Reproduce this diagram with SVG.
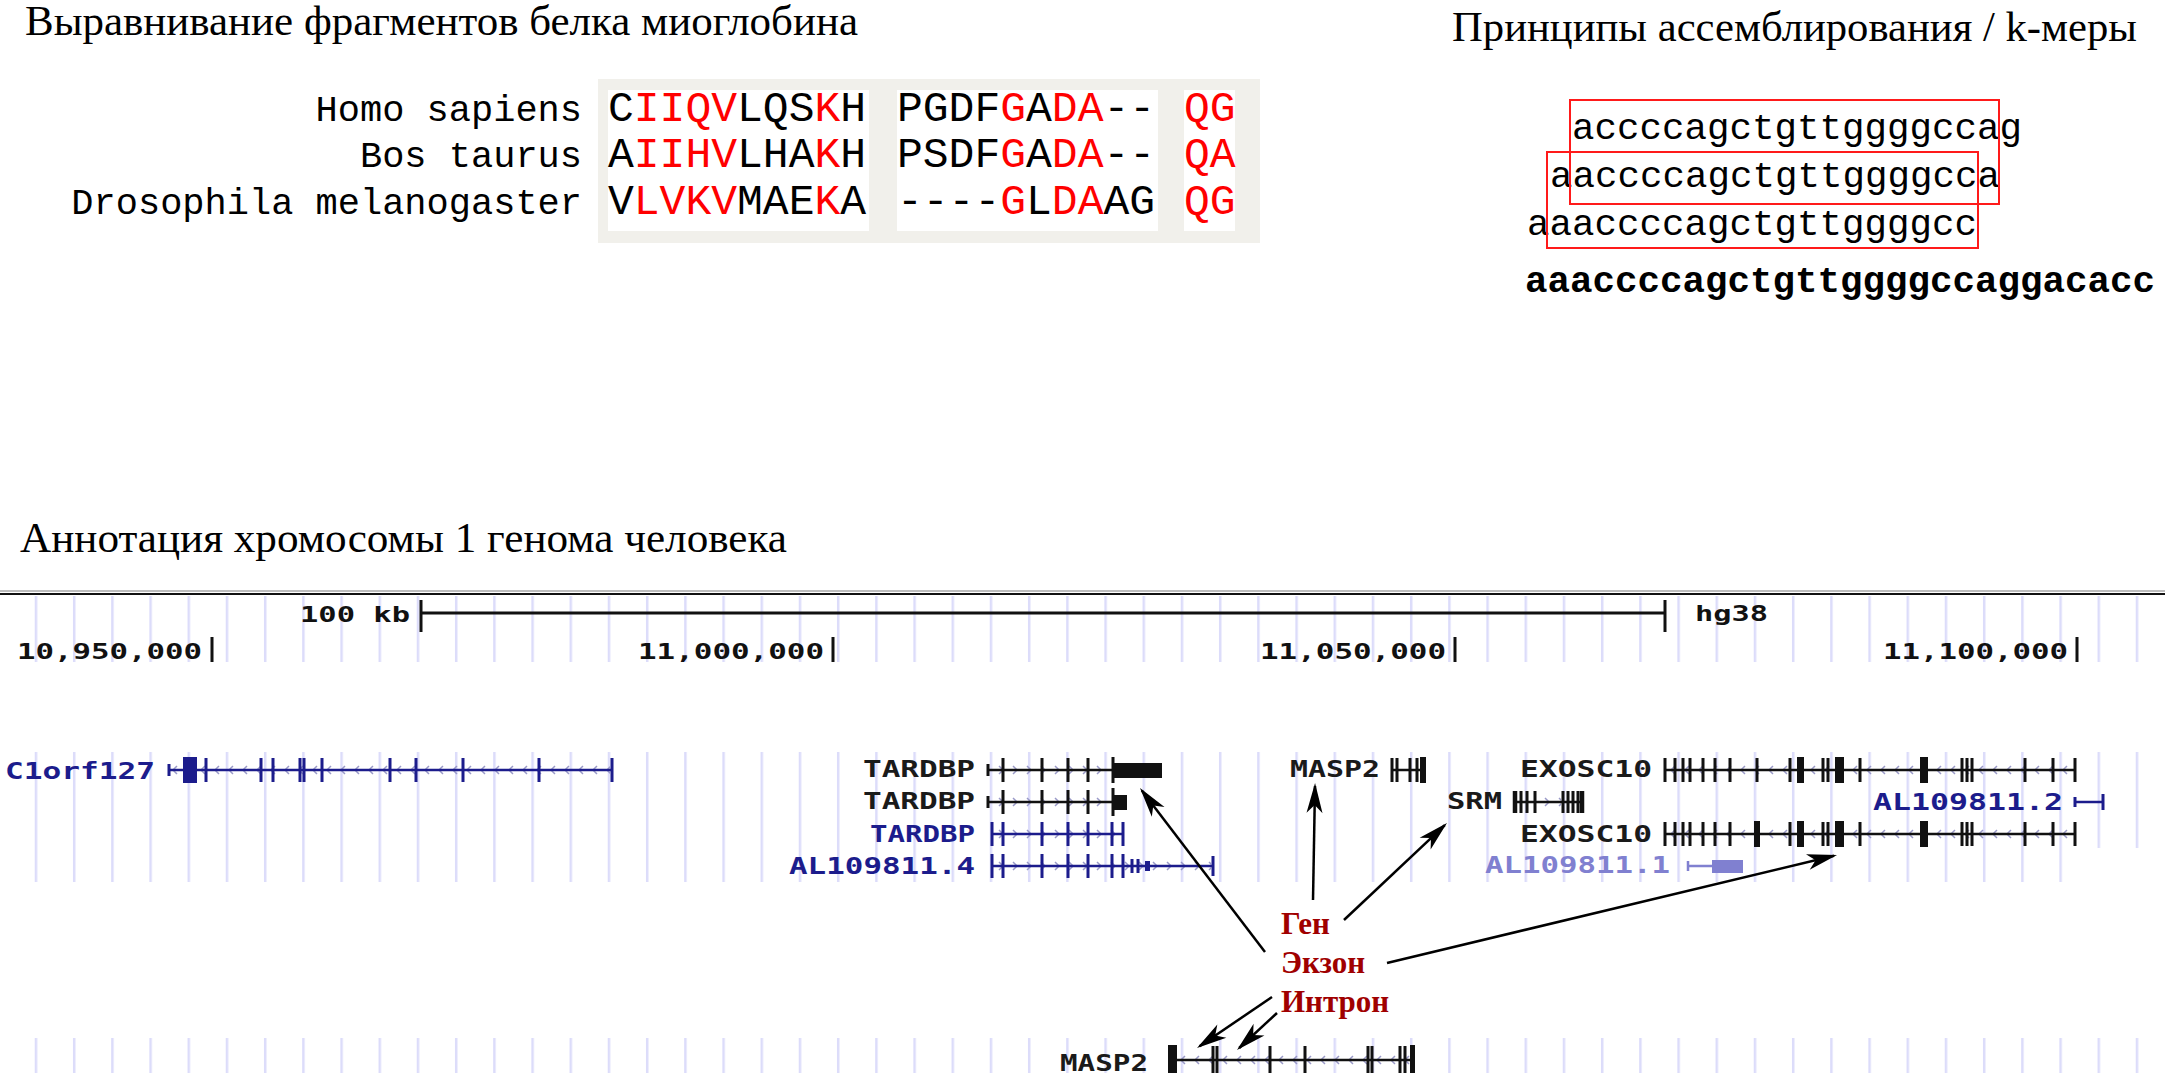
<svg xmlns="http://www.w3.org/2000/svg" width="2165" height="1073" viewBox="0 0 2165 1073">
<style>
.title{font-family:"Liberation Serif","Times New Roman",serif;font-size:42px;fill:#000}
.sp{font-family:"Liberation Mono","Courier New",monospace;font-size:37px;fill:#000}
.seq{font-family:"Liberation Mono","Courier New",monospace;font-size:43px;fill:#000}
.r{fill:#ff0000}
.km{font-family:"Liberation Mono","Courier New",monospace;font-size:37.5px;fill:#000}
.kmb{font-family:"Liberation Mono","Courier New",monospace;font-size:37.5px;font-weight:bold;fill:#000}
.px{font-family:"DejaVu Sans Mono",monospace;font-weight:bold;font-size:22px;fill:#111}
.gl{font-family:"DejaVu Sans Mono",monospace;font-weight:bold;font-size:23px}
.blk{fill:#1a1a1a}
.blu{fill:#1c1c8c}
.lbl{fill:#8080d0}
.gk{stroke:#111;fill:none}
.gb{stroke:#1c1c8c;fill:none}
.ln{stroke-width:2.5}
.tk{stroke-width:3}
.ann{font-family:"Liberation Serif","Times New Roman",serif;font-weight:bold;font-size:31px;fill:#a00000}
.arr{stroke:#000;stroke-width:2.5;fill:none;marker-end:url(#ah)}
</style>
<defs>
<marker id="ah" markerUnits="userSpaceOnUse" orient="auto" refX="-3" refY="0" markerWidth="40" markerHeight="20" viewBox="-32 -10 36 20" overflow="visible">
<path d="M0,0 L-30,-8 L-22,0 L-30,8 Z" fill="#000"/>
</marker>
<pattern id="grid" patternUnits="userSpaceOnUse" x="34.75" y="0" width="38.2" height="10">
<rect x="0" y="0" width="2.5" height="10" fill="#dcdcfa"/>
</pattern>
<pattern id="chevR" patternUnits="userSpaceOnUse" x="0" y="754" width="14" height="32">
<path d="M5,12 L9,16 L5,20" stroke="#9a9ac8" stroke-width="1.5" fill="none"/>
</pattern>
<pattern id="chevL" patternUnits="userSpaceOnUse" x="0" y="754" width="14" height="32">
<path d="M9,12 L5,16 L9,20" stroke="#9a9ac8" stroke-width="1.5" fill="none"/>
</pattern>
<pattern id="chevL2" patternUnits="userSpaceOnUse" x="0" y="1044" width="14" height="32">
<path d="M9,12 L5,16 L9,20" stroke="#9a9ac8" stroke-width="1.5" fill="none"/>
</pattern>
</defs>
<rect width="2165" height="1073" fill="#fff"/>

<g id="titles">
<text class="title" x="25" y="35" textLength="833" lengthAdjust="spacingAndGlyphs">Выравнивание фрагментов белка миоглобина</text>
<text class="title" x="1452" y="41" textLength="685" lengthAdjust="spacingAndGlyphs">Принципы ассемблирования / k-меры</text>
<text class="title" x="20" y="552" textLength="767" lengthAdjust="spacingAndGlyphs">Аннотация хромосомы 1 генома человека</text>
</g>

<g id="alignment">
<rect x="598" y="79" width="662" height="164" fill="#f1f0eb"/>
<rect x="608" y="90" width="261" height="141" fill="#fff"/>
<rect x="897" y="90" width="261" height="141" fill="#fff"/>
<rect x="1184" y="90" width="51" height="141" fill="#fff"/>
<text class="sp" x="582" y="121" text-anchor="end">Homo sapiens</text>
<text class="sp" x="582" y="167" text-anchor="end">Bos taurus</text>
<text class="sp" x="582" y="214" text-anchor="end">Drosophila melanogaster</text>
<text class="seq" x="608" y="121">C<tspan class="r">IIQV</tspan>LQS<tspan class="r">K</tspan>H</text>
<text class="seq" x="608" y="167">A<tspan class="r">IIHV</tspan>LHA<tspan class="r">K</tspan>H</text>
<text class="seq" x="608" y="214">V<tspan class="r">LVKV</tspan>MAE<tspan class="r">K</tspan>A</text>
<text class="seq" x="897" y="121">PGDF<tspan class="r">G</tspan>A<tspan class="r">DA</tspan>--</text>
<text class="seq" x="897" y="167">PSDF<tspan class="r">G</tspan>A<tspan class="r">DA</tspan>--</text>
<text class="seq" x="897" y="214">----<tspan class="r">G</tspan>L<tspan class="r">DA</tspan>AG</text>
<text class="seq r" x="1184" y="121">QG</text>
<text class="seq r" x="1184" y="167">QA</text>
<text class="seq r" x="1184" y="214">QG</text>
</g>

<g id="kmers">
<text class="km" x="1572" y="139">accccagctgttggggccag</text>
<text class="km" x="1550" y="187">aaccccagctgttggggcca</text>
<text class="km" x="1527" y="235">aaaccccagctgttggggcc</text>
<text class="kmb" x="1525" y="292">aaaccccagctgttggggccaggacacc</text>
<rect x="1570" y="100" width="429" height="104" fill="none" stroke="#ff1a1a" stroke-width="2"/>
<rect x="1547" y="152" width="431" height="96" fill="none" stroke="#ff1a1a" stroke-width="2"/>
</g>

<g id="browser-grid">
<rect x="30" y="596" width="2110" height="66" fill="url(#grid)"/>
<rect x="30" y="752" width="2050" height="130" fill="url(#grid)"/>
<rect x="2080" y="752" width="60" height="96" fill="url(#grid)"/>
<rect x="30" y="1038" width="2110" height="35" fill="url(#grid)"/>
</g>

<g id="ruler">
<line x1="0" y1="591" x2="2165" y2="591" stroke="#bdbdbd" stroke-width="2"/>
<line x1="0" y1="594" x2="2165" y2="594" stroke="#111" stroke-width="2"/>
<text class="px" x="300" y="622" textLength="110" lengthAdjust="spacingAndGlyphs">100 kb</text>
<line x1="421" y1="613" x2="1665" y2="613" stroke="#111" stroke-width="3"/>
<line x1="421" y1="600" x2="421" y2="632" stroke="#111" stroke-width="3"/>
<line x1="1665" y1="600" x2="1665" y2="632" stroke="#111" stroke-width="3"/>
<text class="px" x="1695" y="621" textLength="73" lengthAdjust="spacingAndGlyphs">hg38</text>
<text class="px" x="17" y="659" textLength="185" lengthAdjust="spacingAndGlyphs">10,950,000</text>
<text class="px" x="638" y="659" textLength="186" lengthAdjust="spacingAndGlyphs">11,000,000</text>
<text class="px" x="1260" y="659" textLength="186" lengthAdjust="spacingAndGlyphs">11,050,000</text>
<text class="px" x="1883" y="659" textLength="185" lengthAdjust="spacingAndGlyphs">11,100,000</text>
<path d="M212,637V662 M833,637V662 M1455,637V662 M2077,637V662" stroke="#111" stroke-width="3"/>
</g>

<g id="gene-C1orf127">
<text class="gl blu" x="5" y="779" textLength="150" lengthAdjust="spacingAndGlyphs">C1orf127</text>
<rect x="170" y="764" width="440" height="12" fill="url(#chevL)"/>
<path class="gb ln" d="M169,770H612"/>
<path class="gb tk" d="M169,764V776 M206,758V782 M261,758V782 M273,758V782 M300,758V782 M304,758V782 M322,758V782 M390,758V782 M416,758V782 M463,758V782 M539,758V782 M612,758V782"/>
<rect x="183" y="757" width="14" height="26" fill="#1c1c8c"/>
</g>

<g id="gene-TARDBP-1">
<text class="gl blk" x="863" y="777" textLength="112" lengthAdjust="spacingAndGlyphs">TARDBP</text>
<rect x="990" y="764" width="120" height="12" fill="url(#chevR)"/>
<path class="gk ln" d="M988,770H1112"/>
<path class="gk tk" d="M988,764V776 M1003,758V782 M1042,758V782 M1068,758V782 M1088,758V782 M1113,757V783"/>
<rect x="1112" y="763" width="50" height="15" fill="#111"/>
</g>

<g id="gene-MASP2-1">
<text class="gl blk" x="1290" y="777" textLength="90" lengthAdjust="spacingAndGlyphs">MASP2</text>
<path class="gk ln" d="M1392,770H1425"/>
<path class="gk tk" d="M1392,758V782 M1397,758V782 M1410,758V782 M1417,758V782"/>
<rect x="1420" y="757" width="6" height="26" fill="#111"/>
</g>

<g id="gene-EXOSC10-1">
<text class="gl blk" x="1520" y="777" textLength="132" lengthAdjust="spacingAndGlyphs">EXOSC10</text>
<rect x="1666" y="764" width="408" height="12" fill="url(#chevL)"/>
<path class="gk ln" d="M1665,770H2075"/>
<path class="gk tk" d="M1665,758V782 M1675,758V782 M1683,758V782 M1690,758V782 M1703,758V782 M1715,758V782 M1730,758V782 M1757,758V782 M1790,758V782 M1823,758V782 M1828,758V782 M1860,758V782 M1962,758V782 M1967,758V782 M1972,758V782 M2025,758V782 M2053,758V782 M2075,758V782"/>
<rect x="1797" y="757" width="7" height="26" fill="#111"/>
<rect x="1835" y="757" width="9" height="26" fill="#111"/>
<rect x="1920" y="757" width="8" height="26" fill="#111"/>
</g>

<g id="gene-TARDBP-2">
<text class="gl blk" x="863" y="809" textLength="112" lengthAdjust="spacingAndGlyphs">TARDBP</text>
<rect x="990" y="796" width="120" height="12" fill="url(#chevR)"/>
<path class="gk ln" d="M988,802H1112"/>
<path class="gk tk" d="M988,796V808 M1003,790V814 M1042,790V814 M1068,790V814 M1088,790V814 M1113,788V816"/>
<rect x="1112" y="795" width="15" height="15" fill="#111"/>
</g>

<g id="gene-SRM">
<text class="gl blk" x="1447" y="809" textLength="55" lengthAdjust="spacingAndGlyphs">SRM</text>
<rect x="1537" y="796" width="24" height="12" fill="url(#chevR)"/>
<path class="gk ln" d="M1513,802H1583"/>
<path class="gk tk" d="M1521,791V813 M1527,791V813 M1535,791V813 M1563,791V813 M1568,791V813 M1573,791V813 M1578,791V813"/>
<path class="gk" stroke-width="4.5" d="M1515,791V813 M1582,791V813"/>
</g>

<g id="gene-AL109811-2">
<text class="gl blu" x="1873" y="810" textLength="190" lengthAdjust="spacingAndGlyphs">AL109811.2</text>
<path class="gb ln" d="M2075,802H2103"/>
<path class="gb tk" d="M2075,797V807 M2103,794V810"/>
</g>

<g id="gene-TARDBP-3">
<text class="gl blu" x="870" y="842" textLength="105" lengthAdjust="spacingAndGlyphs">TARDBP</text>
<rect x="994" y="828" width="127" height="12" fill="url(#chevR)"/>
<path class="gb ln" d="M992,834H1123"/>
<path class="gb tk" d="M992,822V846 M1003,822V846 M1042,822V846 M1068,822V846 M1088,822V846 M1112,822V846 M1123,822V846"/>
</g>

<g id="gene-EXOSC10-2">
<text class="gl blk" x="1520" y="842" textLength="132" lengthAdjust="spacingAndGlyphs">EXOSC10</text>
<rect x="1666" y="828" width="408" height="12" fill="url(#chevL)"/>
<path class="gk ln" d="M1665,834H2075"/>
<path class="gk tk" d="M1665,822V846 M1675,822V846 M1683,822V846 M1690,822V846 M1703,822V846 M1715,822V846 M1730,822V846 M1790,822V846 M1823,822V846 M1828,822V846 M1860,822V846 M1962,822V846 M1967,822V846 M1972,822V846 M2025,822V846 M2053,822V846 M2075,822V846"/>
<rect x="1754" y="821" width="6" height="26" fill="#111"/>
<rect x="1797" y="821" width="7" height="26" fill="#111"/>
<rect x="1835" y="821" width="9" height="26" fill="#111"/>
<rect x="1920" y="821" width="8" height="26" fill="#111"/>
</g>

<g id="gene-AL109811-4">
<text class="gl blu" x="789" y="874" textLength="186" lengthAdjust="spacingAndGlyphs">AL109811.4</text>
<rect x="994" y="860" width="217" height="12" fill="url(#chevR)"/>
<path class="gb ln" d="M992,866H1213"/>
<path class="gb tk" d="M992,854V878 M1003,854V878 M1042,854V878 M1068,854V878 M1088,854V878 M1112,854V878 M1123,854V878 M1132,859V873 M1138,859V873 M1213,856V876"/>
<rect x="1145" y="861" width="5" height="10" fill="#1c1c8c"/>
</g>

<g id="gene-AL109811-1">
<text class="gl lbl" x="1485" y="873" textLength="185" lengthAdjust="spacingAndGlyphs">AL109811.1</text>
<path d="M1688,866H1712 M1688,861V871" stroke="#8080d0" stroke-width="2.5" fill="none"/>
<rect x="1712" y="860" width="31" height="13" fill="#8080d0"/>
</g>

<g id="gene-MASP2-2">
<text class="gl blk" x="1060" y="1071" textLength="88" lengthAdjust="spacingAndGlyphs">MASP2</text>
<rect x="1178" y="1054" width="232" height="12" fill="url(#chevL2)"/>
<path class="gk ln" d="M1168,1060H1413"/>
<path class="gk tk" d="M1213,1046V1074 M1217,1046V1074 M1270,1046V1074 M1305,1046V1074 M1368,1046V1074 M1372,1046V1074 M1400,1046V1074 M1405,1046V1074"/>
<rect x="1168" y="1045" width="9" height="30" fill="#111"/>
<rect x="1410" y="1045" width="5" height="30" fill="#111"/>
</g>

<g id="label-gene"><text class="ann" x="1281" y="934">Ген</text></g>
<g id="label-exon"><text class="ann" x="1281" y="973">Экзон</text></g>
<g id="label-intron"><text class="ann" x="1281" y="1012">Интрон</text></g>

<g id="connectors">
<path class="arr" d="M1313,900 L1315,786"/>
<path class="arr" d="M1344,920 L1444.8,825.1"/>
<path class="arr" d="M1265,952 L1141.8,790.4"/>
<path class="arr" d="M1387,963 L1834.1,855.7"/>
<path class="arr" d="M1272,997 L1199.5,1046.3"/>
<path class="arr" d="M1277,1013 L1239.2,1048"/>
</g>
</svg>
